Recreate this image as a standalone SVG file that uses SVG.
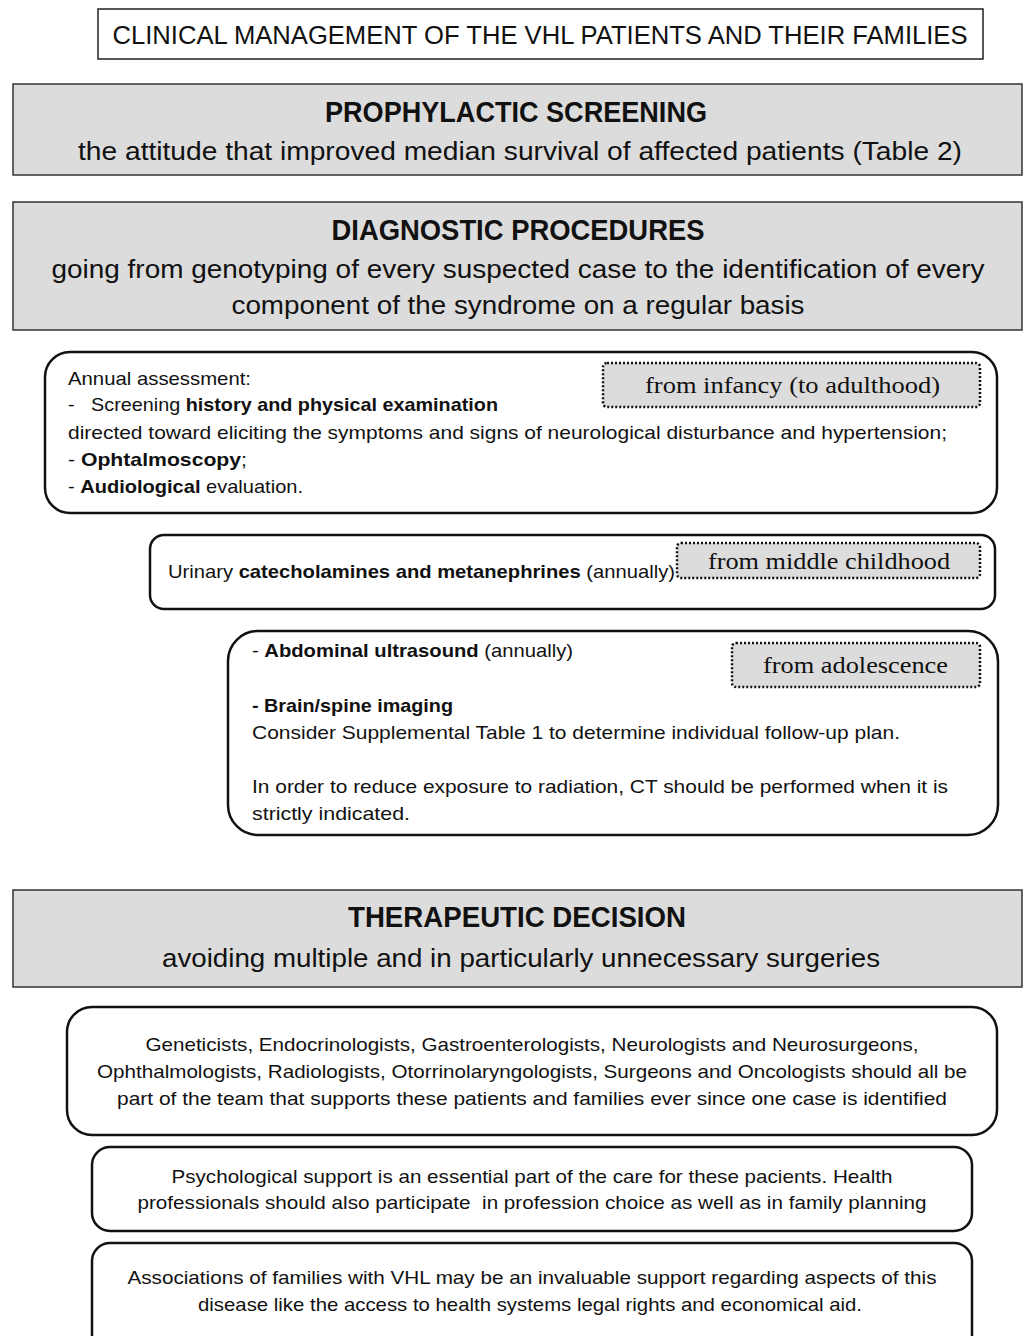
<svg xmlns="http://www.w3.org/2000/svg" width="1025" height="1336" viewBox="0 0 1025 1336">
<style>
text{font-family:"Liberation Sans","Open Sans",Arial,sans-serif;fill:#111}
.hdr{fill:#dcdcdc;stroke:#333;stroke-width:1.5}
.rbox{fill:#fff;stroke:#111;stroke-width:2.5}
.dot{fill:#dcdcdc;stroke:#111;stroke-width:2.5;stroke-dasharray:2 2}
.h{font-size:29px;font-weight:bold;text-anchor:middle}
.sub{font-size:25px;text-anchor:middle}
.b{font-size:19px}
.c{font-size:19px;text-anchor:middle}
.ser{font-family:"Liberation Serif","Times New Roman",serif;font-size:24px}
.bold{font-weight:bold}
</style>
<g id="title">
<rect x="98" y="9" width="885" height="50" fill="#fff" stroke="#222" stroke-width="1.5"/>
<text x="540" y="44" font-size="25" text-anchor="middle" textLength="855" lengthAdjust="spacingAndGlyphs">CLINICAL MANAGEMENT OF THE VHL PATIENTS AND THEIR FAMILIES</text>
</g>
<g id="prophylactic">
<rect class="hdr" x="13" y="84" width="1009" height="91"/>
<text class="h" x="516" y="122" textLength="382" lengthAdjust="spacingAndGlyphs">PROPHYLACTIC SCREENING</text>
<text class="sub" x="520" y="160" textLength="884" lengthAdjust="spacingAndGlyphs">the attitude that improved median survival of affected patients (Table 2)</text>
</g>
<g id="diagnostic">
<rect class="hdr" x="13" y="202" width="1009" height="128"/>
<text class="h" x="518" y="240" textLength="373" lengthAdjust="spacingAndGlyphs">DIAGNOSTIC PROCEDURES</text>
<text class="sub" x="518" y="278" textLength="933" lengthAdjust="spacingAndGlyphs">going from genotyping of every suspected case to the identification of every</text>
<text class="sub" x="518" y="314" textLength="573" lengthAdjust="spacingAndGlyphs">component of the syndrome on a regular basis</text>
</g>
<g id="annual">
<rect class="rbox" x="45" y="352" width="952" height="161" rx="25"/>
<text class="b" x="68" y="385" textLength="183" lengthAdjust="spacingAndGlyphs">Annual assessment:</text>
<text class="b" x="68" y="411" textLength="430" lengthAdjust="spacingAndGlyphs">-&#160;&#160;&#160;Screening <tspan class="bold">history and physical examination</tspan></text>
<text class="b" x="68" y="439" textLength="879" lengthAdjust="spacingAndGlyphs">directed toward eliciting the symptoms and signs of neurological disturbance and hypertension;</text>
<text class="b" x="68" y="466" textLength="179" lengthAdjust="spacingAndGlyphs">- <tspan class="bold">Ophtalmoscopy</tspan>;</text>
<text class="b" x="68" y="493" textLength="235" lengthAdjust="spacingAndGlyphs">- <tspan class="bold">Audiological</tspan> evaluation.</text>
<rect class="dot" x="603" y="363" width="377" height="44" rx="4"/>
<text class="ser" x="645" y="393" textLength="295" lengthAdjust="spacingAndGlyphs">from infancy (to adulthood)</text>
</g>
<g id="urinary">
<rect class="rbox" x="150" y="535" width="845" height="74" rx="14"/>
<text class="b" x="168" y="578" textLength="507" lengthAdjust="spacingAndGlyphs">Urinary <tspan class="bold">catecholamines and metanephrines</tspan> (annually)</text>
<rect class="dot" x="677" y="543" width="303" height="35" rx="4"/>
<text class="ser" x="708" y="569" textLength="242" lengthAdjust="spacingAndGlyphs">from middle childhood</text>
</g>
<g id="imaging">
<rect class="rbox" x="228" y="631" width="770" height="204" rx="30"/>
<text class="b" x="252" y="657" textLength="321" lengthAdjust="spacingAndGlyphs">- <tspan class="bold">Abdominal ultrasound</tspan> (annually)</text>
<text class="b" x="252" y="712" textLength="201" lengthAdjust="spacingAndGlyphs"><tspan class="bold">- Brain/spine imaging</tspan></text>
<text class="b" x="252" y="739" textLength="648" lengthAdjust="spacingAndGlyphs">Consider Supplemental Table 1 to determine individual follow-up plan.</text>
<text class="b" x="252" y="793" textLength="696" lengthAdjust="spacingAndGlyphs">In order to reduce exposure to radiation, CT should be performed when it is</text>
<text class="b" x="252" y="820" textLength="158" lengthAdjust="spacingAndGlyphs">strictly indicated.</text>
<rect class="dot" x="732" y="643" width="248" height="44" rx="4"/>
<text class="ser" x="763" y="673" textLength="185" lengthAdjust="spacingAndGlyphs">from adolescence</text>
</g>
<g id="therapeutic">
<rect class="hdr" x="13" y="890" width="1009" height="97"/>
<text class="h" x="517" y="927" textLength="338" lengthAdjust="spacingAndGlyphs">THERAPEUTIC DECISION</text>
<text class="sub" x="521" y="967" textLength="718" lengthAdjust="spacingAndGlyphs">avoiding multiple and in particularly unnecessary surgeries</text>
</g>
<g id="team">
<rect class="rbox" x="67" y="1007" width="930" height="128" rx="25"/>
<text class="c" x="532" y="1051" textLength="773" lengthAdjust="spacingAndGlyphs">Geneticists, Endocrinologists, Gastroenterologists, Neurologists and Neurosurgeons,</text>
<text class="c" x="532" y="1078" textLength="870" lengthAdjust="spacingAndGlyphs">Ophthalmologists, Radiologists, Otorrinolaryngologists, Surgeons and Oncologists should all be</text>
<text class="c" x="532" y="1105" textLength="830" lengthAdjust="spacingAndGlyphs">part of the team that supports these patients and families ever since one case is identified</text>
</g>
<g id="psych">
<rect class="rbox" x="92" y="1147" width="880" height="84" rx="18"/>
<text class="c" x="532" y="1183" textLength="721" lengthAdjust="spacingAndGlyphs">Psychological support is an essential part of the care for these pacients. Health</text>
<text class="c" x="532" y="1209" textLength="789" lengthAdjust="spacingAndGlyphs">professionals should also participate&#160; in profession choice as well as in family planning</text>
</g>
<g id="assoc">
<rect class="rbox" x="92" y="1243" width="880" height="110" rx="18"/>
<text class="c" x="532" y="1284" textLength="809" lengthAdjust="spacingAndGlyphs">Associations of families with VHL may be an invaluable support regarding aspects of this</text>
<text class="c" x="530" y="1311" textLength="664" lengthAdjust="spacingAndGlyphs">disease like the access to health systems legal rights and economical aid.</text>
</g>
<g id="connectors"></g>
</svg>
